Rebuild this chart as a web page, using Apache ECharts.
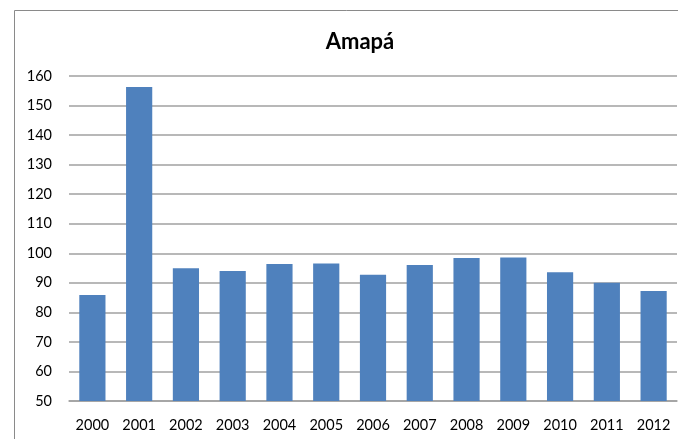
<!DOCTYPE html>
<html>
<head>
<meta charset="utf-8">
<script src="https://cdn.jsdelivr.net/npm/echarts@6/dist/echarts.min.js"></script>
<style>
  html, body { margin: 0; padding: 0; background: #fff; }
  #chart { width: 678px; height: 439px; }
</style>
</head>
<body>
<div id="chart"></div>
<script>
const years = ["2000", "2001", "2002", "2003", "2004", "2005", "2006",
  "2007", "2008", "2009", "2010", "2011", "2012"];
const values = [85.9, 156.3, 94.9, 94.0, 96.4, 96.5, 92.7,
  96.0, 98.4, 98.6, 93.6, 90.0, 87.2];
const titleText = "Amapá";

const fontFamily = "Lato, 'Open Sans', sans-serif";
const chart = echarts.init(document.getElementById("chart"));

chart.setOption({
  backgroundColor: "#fff",
  animation: false,
  title: {
    text: titleText,
    left: 355,
    top: 26,
    textAlign: "center",
    textStyle: {
      color: "#000",
      fontSize: 22,
      fontWeight: "bold",
      fontFamily: fontFamily,
    },
  },
  graphic: [
    {
      type: "rect",
      shape: { x: 14.5, y: 10.5, width: 700, height: 500 },
      style: { fill: "none", stroke: "#8a8a8a", lineWidth: 1 },
      silent: true,
    },
  ],
  grid: {
    left: 69,
    right: 1,
    top: 76,
    bottom: 38,
  },
  xAxis: {
    type: "category",
    data: years,
    axisLine: { show: true, lineStyle: { color: "#a0a0a0", width: 1.5 } },
    axisTick: { show: false },
    axisLabel: {
      color: "#000",
      fontSize: 14.5,
      fontFamily: fontFamily,
      margin: 17,
    },
  },
  yAxis: {
    type: "value",
    min: 50,
    max: 160,
    interval: 10,
    axisLine: { show: false },
    axisTick: { show: false },
    axisLabel: {
      color: "#000",
      fontSize: 14.5,
      fontFamily: fontFamily,
      margin: 17,
    },
    splitLine: { show: true, lineStyle: { color: "#a0a0a0", width: 1.5 } },
  },
  series: [
    {
      type: "bar",
      data: values,
      barCategoryGap: "44%",
      itemStyle: { color: "#4f81bd" },
    },
  ],
});
</script>
</body>
</html>
